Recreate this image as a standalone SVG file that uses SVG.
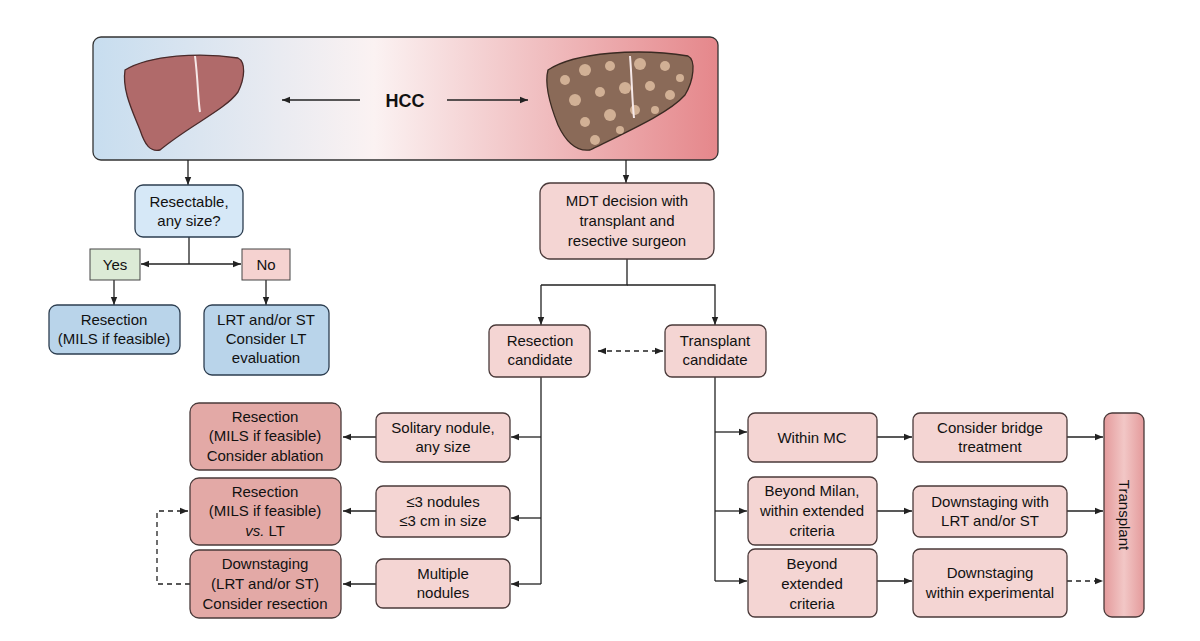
<svg xmlns="http://www.w3.org/2000/svg" width="1200" height="641" viewBox="0 0 1200 641">
<style>
text{font-family:"Liberation Sans",Arial,sans-serif;font-size:15px;fill:#111;text-anchor:middle}
.b{stroke:#4a3a3a;stroke-width:1.3}
.p{fill:#f4d5d3}
.d{fill:#e3a9a6}
.bl{fill:#b9d4ea;stroke:#2d3e50;stroke-width:1.3}
.c{fill:none;stroke:#222;stroke-width:1.3}
.a{marker-end:url(#ah)}
.ds{stroke-dasharray:5 4}
</style>
<defs>
<marker id="ah" viewBox="0 0 10 10" refX="10" refY="5" markerWidth="8" markerHeight="8" orient="auto-start-reverse" markerUnits="userSpaceOnUse"><path d="M0,1 L10,5 L0,9 z" fill="#222"/></marker>
<linearGradient id="bg" x1="0" x2="1"><stop offset="0" stop-color="#c7ddef"/><stop offset="0.45" stop-color="#fbf2f2"/><stop offset="1" stop-color="#e5878b"/></linearGradient>
<linearGradient id="tg" x1="0" x2="1"><stop offset="0" stop-color="#e49a9b"/><stop offset="0.5" stop-color="#f2c7c6"/><stop offset="1" stop-color="#e49a9b"/></linearGradient>
</defs>
<g id="banner">
<rect x="93" y="37" width="625" height="123" rx="8" fill="url(#bg)" stroke="#333" stroke-width="1.3"/>
<path d="M125,70 C150,55 200,52 238,58 C246,62 245,78 238,92 C225,110 190,125 160,150 C150,152 145,145 140,130 C132,110 122,90 125,70 Z" fill="#b06a6a" stroke="#4a2a2a" stroke-width="1.3"/>
<path d="M195,56 C198,80 198,100 200,112" fill="none" stroke="#f6e8e8" stroke-width="2"/>
<path d="M548,70 C575,52 640,48 688,56 C696,60 694,80 685,95 C670,112 635,128 590,150 C575,152 565,140 558,125 C550,105 544,85 548,70 Z" fill="#8a6a58" stroke="#3a2a22" stroke-width="1.3"/>
<g fill="#d9b89c" opacity="0.9">
<circle cx="565" cy="80" r="5"/><circle cx="585" cy="70" r="6"/><circle cx="610" cy="66" r="5"/><circle cx="640" cy="64" r="6"/><circle cx="665" cy="66" r="5"/><circle cx="680" cy="78" r="4"/><circle cx="575" cy="100" r="6"/><circle cx="600" cy="92" r="5"/><circle cx="625" cy="88" r="6"/><circle cx="650" cy="86" r="5"/><circle cx="670" cy="95" r="5"/><circle cx="585" cy="122" r="5"/><circle cx="610" cy="115" r="6"/><circle cx="635" cy="110" r="5"/><circle cx="655" cy="110" r="4"/><circle cx="595" cy="140" r="5"/><circle cx="620" cy="130" r="4"/></g>
<path d="M630,56 C632,80 632,100 634,118" fill="none" stroke="#f6e8e8" stroke-width="2"/>
<text x="405" y="107" style="font-weight:bold;font-size:18px">HCC</text>
</g>
<g id="connectors">
<path class="c a" d="M360,100 H282"/><path class="c a" d="M447,100 H528"/>
<path class="c a" d="M188,160 V185"/><path class="c a" d="M626,160 V183"/>
<path class="c" d="M189,237 V264"/><path class="c a" d="M189,264 H141"/><path class="c a" d="M189,264 H241"/>
<path class="c a" d="M114,280 V305"/><path class="c a" d="M266,280 V305"/>
<path class="c" d="M627,259 V285 H541"/><path class="c a" d="M541,285 V325"/><path class="c a" d="M627,285 H715 V325"/>
<path class="c ds a" d="M598,351 H663" marker-start="url(#ah)"/>
<path class="c" d="M541,377 V584"/>
<path class="c a" d="M541,437 H511"/><path class="c a" d="M541,518 H511"/><path class="c a" d="M541,584 H511"/>
<path class="c a" d="M376,437 H343"/><path class="c a" d="M376,511 H343"/><path class="c a" d="M376,584 H343"/>
<path class="c ds a" d="M190,584 H157 V511 H188"/>
<path class="c" d="M715,377 V581"/>
<path class="c a" d="M715,432 H747"/><path class="c a" d="M715,511 H747"/><path class="c a" d="M715,581 H747"/>
<path class="c a" d="M877,437 H912"/><path class="c a" d="M877,511 H912"/><path class="c a" d="M877,581 H912"/>
<path class="c a" d="M1067,437 H1103"/><path class="c a" d="M1067,511 H1103"/><path class="c ds a" d="M1067,581 H1103"/>
</g>
<g id="resectable"><rect x="135" y="185" width="108" height="52" rx="8" fill="#d6e8f7" stroke="#2d3e50" stroke-width="1.3"/><text x="189" y="207">Resectable,</text><text x="189" y="226">any size?</text></g>
<g id="yes"><rect x="90" y="249" width="50" height="31" fill="#dcebd6" stroke="#444" stroke-width="1"/><text x="115" y="270">Yes</text></g>
<g id="no"><rect x="242" y="249" width="48" height="31" fill="#f5d2d0" stroke="#444" stroke-width="1"/><text x="266" y="270">No</text></g>
<g id="resection-left"><rect class="bl" x="49" y="305" width="131" height="49" rx="8"/><text x="114" y="325">Resection</text><text x="114" y="344">(MILS if feasible)</text></g>
<g id="lrt-left"><rect class="bl" x="204" y="305" width="125" height="70" rx="8"/><text x="266" y="325">LRT and/or ST</text><text x="266" y="344">Consider LT</text><text x="266" y="363">evaluation</text></g>
<g id="mdt"><rect class="p b" x="540" y="183" width="174" height="76" rx="10"/><text x="627" y="206">MDT decision with</text><text x="627" y="226">transplant and</text><text x="627" y="246">resective surgeon</text></g>
<g id="res-cand"><rect class="p b" x="489" y="325" width="101" height="52" rx="7"/><text x="540" y="346">Resection</text><text x="540" y="365">candidate</text></g>
<g id="tx-cand"><rect class="p b" x="665" y="325" width="101" height="52" rx="7"/><text x="715" y="346">Transplant</text><text x="715" y="365">candidate</text></g>
<g id="solitary"><rect class="p b" x="376" y="413" width="134" height="49" rx="7"/><text x="443" y="433">Solitary nodule,</text><text x="443" y="452">any size</text></g>
<g id="three"><rect class="p b" x="376" y="486" width="134" height="51" rx="7"/><text x="443" y="507">≤3 nodules</text><text x="443" y="526">≤3 cm in size</text></g>
<g id="multiple"><rect class="p b" x="376" y="559" width="134" height="49" rx="7"/><text x="443" y="579">Multiple</text><text x="443" y="598">nodules</text></g>
<g id="res1"><rect class="d b" x="190" y="403" width="151" height="67" rx="9"/><text x="265" y="422">Resection</text><text x="265" y="441">(MILS if feasible)</text><text x="265" y="461">Consider ablation</text></g>
<g id="res2"><rect class="d b" x="190" y="478" width="151" height="67" rx="9"/><text x="265" y="497">Resection</text><text x="265" y="516">(MILS if feasible)</text><text x="265" y="536"><tspan font-style="italic">vs.</tspan> LT</text></g>
<g id="down-left"><rect class="d b" x="190" y="550" width="151" height="68" rx="9"/><text x="265" y="569">Downstaging</text><text x="265" y="589">(LRT and/or ST)</text><text x="265" y="609">Consider resection</text></g>
<g id="within"><rect class="p b" x="748" y="413" width="129" height="49" rx="7"/><text x="812" y="443">Within MC</text></g>
<g id="beyond-milan"><rect class="p b" x="748" y="477" width="129" height="68" rx="7"/><text x="812" y="496">Beyond Milan,</text><text x="812" y="516">within extended</text><text x="812" y="536">criteria</text></g>
<g id="beyond-ext"><rect class="p b" x="748" y="549" width="129" height="68" rx="7"/><text x="812" y="569">Beyond</text><text x="812" y="589">extended</text><text x="812" y="609">criteria</text></g>
<g id="bridge"><rect class="p b" x="913" y="413" width="154" height="49" rx="7"/><text x="990" y="433">Consider bridge</text><text x="990" y="452">treatment</text></g>
<g id="down-lrt"><rect class="p b" x="913" y="486" width="154" height="51" rx="7"/><text x="990" y="507">Downstaging with</text><text x="990" y="526">LRT and/or ST</text></g>
<g id="down-exp"><rect class="p b" x="913" y="549" width="154" height="68" rx="7"/><text x="990" y="578">Downstaging</text><text x="990" y="598">within experimental</text><text x="990" y="612" dy="-3"></text></g>
<g id="transplant"><rect x="1104" y="413" width="40" height="204" rx="8" fill="url(#tg)" stroke="#4a3a3a" stroke-width="1.3"/><text x="1124" y="515" transform="rotate(90 1124 515)" dy="5">Transplant</text></g>
</svg>
